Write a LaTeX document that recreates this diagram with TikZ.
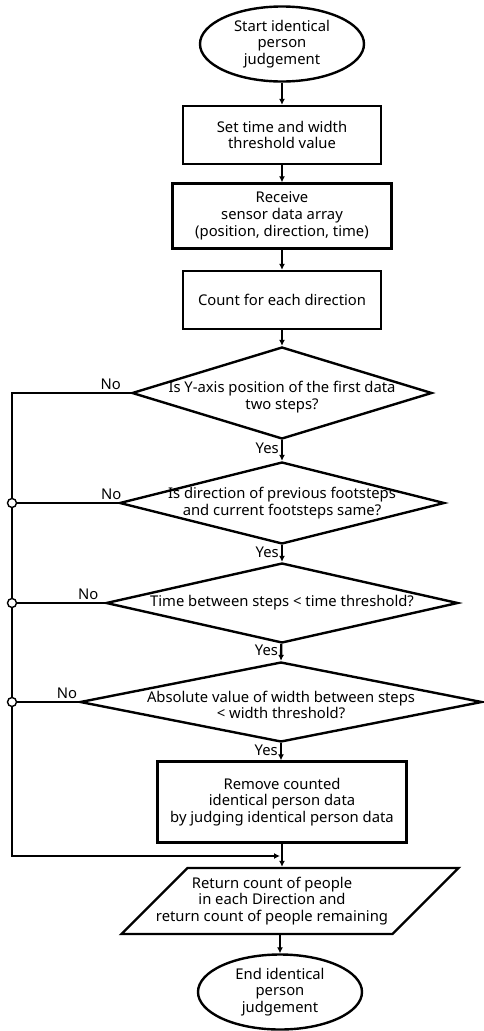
\documentclass[tikz,border=0pt]{standalone}
\usepackage{fontspec}
\setmainfont{Noto Sans}
\usetikzlibrary{arrows.meta,shapes.geometric}

\begin{document}
\begin{tikzpicture}[x=1pt,y=-1pt,>={Latex[length=6pt,width=6pt]},line width=2.4pt,
  every node/.style={font=\fontsize{14.8}{16.7}\selectfont},
  term/.style={draw,ellipse,align=center,inner sep=0pt,minimum width=164,minimum height=75},
  proc/.style={draw,rectangle,align=center,inner sep=0pt},
  decision/.style={draw,diamond,inner sep=0pt,aspect=1},
  io/.style={draw,trapezium,trapezium left angle=45,trapezium right angle=135,
    trapezium stretches body=true,inner sep=0pt},
  joint/.style={draw,circle,fill=white,inner sep=0pt,minimum size=9pt,line width=1.4pt},
  yes/.style={left,pos=0.4,inner sep=2pt},
  no/.style={above,inner sep=2pt}]
\useasboundingbox (0,0) rectangle (483,1031);
% ---------- main column ----------
\node[term] (start) at (282,44) {Start identical\\person\\judgement};
\node[proc,minimum width=198,minimum height=58] (setth) at (282,135) {Set time and width\\threshold value};
\node[proc,minimum width=219,minimum height=65] (recv) at (282,216) {Receive\\sensor data array\\(position, direction, time)};
\node[proc,minimum width=198,minimum height=58] (count) at (282,300) {Count for each direction};
\node[decision,minimum width=300,minimum height=92,
  label={[align=center,yshift=-4pt]center:Is Y-axis position of the first data\\two steps?}] (qy) at (282,393) {};
\node[decision,minimum width=325,minimum height=82,
  label={[align=center]center:Is direction of previous footsteps\\and current footsteps same?}] (qdir) at (282,503) {};
\node[decision,minimum width=352,minimum height=80,
  label={center:Time between steps < time threshold?}] (qtime) at (282,603) {};
\node[decision,minimum width=402,minimum height=80,
  label={[align=center,yshift=-3pt]center:Absolute value of width between steps\\< width threshold?}] (qwidth) at (281,702) {};
\node[proc,minimum width=249,minimum height=81] (remove) at (282,802) {Remove counted\\identical person data\\by judging identical person data};
\node[io,minimum width=337,
  label={[align=center,xshift=-18pt]center:Return count of people\\in each Direction and\\return count of people remaining}] (output) at (290,901) {\phantom{\rule{1pt}{66pt}}};
\node[term] (endn) at (280,992) {End identical\\person\\judgement};
% ---------- arrows down the column ----------
\draw[->] (start) -- (setth);
\draw[->] (setth) -- (recv);
\draw[->] (recv) -- (count);
\draw[->] (count) -- (qy);
\draw[->] (qy) -- node[yes]{Yes} (qdir);
\draw[->] (qdir) -- node[yes]{Yes} (qtime);
\draw[->] (qtime) -- node[yes]{Yes} (qwidth.north);
\draw[->] (qwidth.south) -- node[yes]{Yes} (remove.north -| qwidth.south);
\draw[->] (remove.south) -- (remove.south |- output.north);
\draw[->] (endn.north |- output.south) -- (endn.north);
% ---------- No branch on the left ----------
\coordinate (ltop) at (12,393);
\coordinate (lbot) at (12,856);
\coordinate (merge) at (280,856);
\draw[->] (qy.west) -- node[no,pos=0.17]{No} (ltop) -- (lbot) -- (merge);
\node[joint] (j2) at (ltop |- qdir.west) {};
\node[joint] (j3) at (ltop |- qtime.west) {};
\node[joint] (j4) at (ltop |- qwidth.west) {};
\draw (qdir.west) -- node[no,pos=0.07]{No} (j2);
\draw (qtime.west) -- node[no,pos=0.19]{No} (j3);
\draw (qwidth.west) -- node[no,pos=0.19]{No} (j4);
\end{tikzpicture}
\end{document}
